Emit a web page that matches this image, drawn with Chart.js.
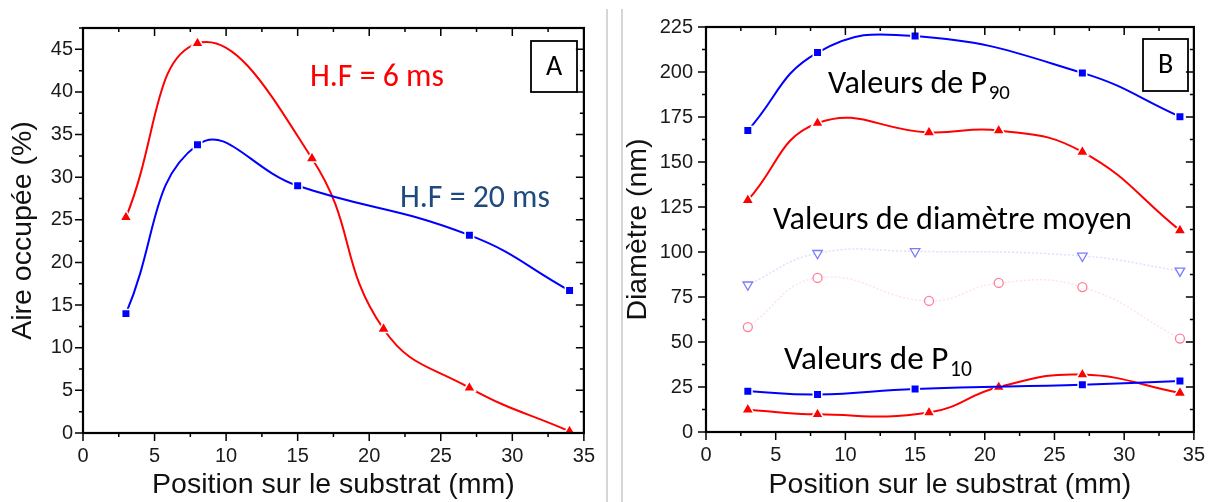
<!DOCTYPE html>
<html>
<head>
<meta charset="utf-8">
<script src="https://cdn.jsdelivr.net/npm/chart.js@4.4.1/dist/chart.umd.min.js"></script>
<style>
  html, body { margin: 0; padding: 0; background: #fff; }
  body { width: 1216px; height: 502px; position: relative; overflow: hidden; }
  canvas { position: absolute; top: 0; }
  #chartA { left: 0; }
  #chartB { left: 612px; }
  .sep { position: absolute; top: 9px; bottom: 0; width: 2px; background: #d6d6d6; }
</style>
</head>
<body>
<canvas id="chartA" width="606" height="502"></canvas>
<canvas id="chartB" width="604" height="502"></canvas>
<div class="sep" style="left:606px"></div>
<div class="sep" style="left:621px"></div>
<script>
// positions along the substrate (mm)
const posRed = [3, 8, 16, 21, 27, 34];
const posBlue = [3, 8, 15, 27, 34];

// A : occupied area (%)
const aireHF6 = [25.3, 45.7, 32.2, 12.2, 5.3, 0.2];
const aireHF20 = [14.0, 33.8, 29.0, 23.2, 16.7];

// B : diameters (nm)
const p90Blue = [167.5, 210.8, 220.0, 199.5, 175.2];
const p90Red = [128.8, 171.6, 166.4, 167.5, 155.6, 112.0];
const moyBlue = [81.8, 99.3, 100.3, 97.8, 89.5];
const moyRed = [58.3, 85.6, 72.8, 82.8, 80.5, 51.9];
const p10Blue = [22.6, 20.8, 23.9, 26.3, 28.3];
const p10Red = [12.4, 9.8, 10.8, 25.0, 31.9, 21.7];

// tick labels
const xTicks = [0, 5, 10, 15, 20, 25, 30, 35];
const yTicksA = [0, 5, 10, 15, 20, 25, 30, 35, 40, 45];
const yTicksB = [0, 25, 50, 75, 100, 125, 150, 175, 200, 225];

const RED = '#ff0000';
const BLUE = '#0000ff';
const axisFont = 'Liberation Sans, Arial, sans-serif';
const noteFont = 'Carlito, Lato, sans-serif';

function pts(xs, ys) {
    return xs.map((x, i) => ({ x: x, y: ys[i] }));
}

function solid(xs, ys, color, style, tension) {
    return {
        data: pts(xs, ys),
        borderColor: color,
        borderWidth: 2,
        tension: tension || 0.45,
        pointStyle: style,
        pointRadius: style === 'rect' ? 6 : 7,
        pointBackgroundColor: color,
        pointBorderColor: '#fff',
        pointBorderWidth: 1.5
    };
}

function open(xs, ys, line, mark, style, rot) {
    return {
        data: pts(xs, ys),
        borderColor: line,
        borderWidth: 1.5,
        borderDash: [2, 2],
        tension: 0.45,
        pointStyle: style,
        pointRotation: rot,
        pointRadius: style === 'circle' ? 4.5 : 5.5,
        pointBackgroundColor: '#fff',
        pointBorderColor: mark,
        pointBorderWidth: 1.3
    };
}

// frame + ticks on all four sides (inner on top/right, outer on bottom/left)
const framePlugin = {
    id: 'frame',
    afterDatasetsDraw(chart, args, o) {
        const { ctx, chartArea: a, scales: { x, y } } = chart;
        ctx.save();
        ctx.strokeStyle = '#000';
        ctx.lineWidth = 1.5;
        ctx.beginPath();
        for (let v = x.min; v <= x.max + 1e-6; v += o.xMinor) {
            const px = x.getPixelForValue(v);
            const len = Math.abs(v / o.xMajor - Math.round(v / o.xMajor)) < 1e-6 ? 8 : 4;
            ctx.moveTo(px, a.bottom); ctx.lineTo(px, a.bottom + len);
            ctx.moveTo(px, a.top); ctx.lineTo(px, a.top + len);
        }
        for (let v = y.min; v <= y.max + 1e-6; v += o.yMinor) {
            const py = y.getPixelForValue(v);
            const len = Math.abs(v / o.yMajor - Math.round(v / o.yMajor)) < 1e-6 ? 8 : 4;
            ctx.moveTo(a.left, py); ctx.lineTo(a.left - len, py);
            ctx.moveTo(a.right, py); ctx.lineTo(a.right - len, py);
        }
        ctx.stroke();
        ctx.lineWidth = 2.2;
        ctx.strokeRect(a.left, a.top, a.right - a.left, a.bottom - a.top);
        ctx.restore();
    }
};

// text notes, sized to the width they take in the figure
const notesPlugin = {
    id: 'notes',
    afterDraw(chart, args, o) {
        const ctx = chart.ctx;
        ctx.save();
        ctx.textBaseline = 'alphabetic';
        (o.items || []).forEach(n => {
            const base = 30;
            ctx.font = base + 'px ' + noteFont;
            let w = ctx.measureText(n.text).width;
            if (n.sub) {
                ctx.font = (base * 0.65) + 'px ' + noteFont;
                w += ctx.measureText(n.sub).width + base * 0.05;
            }
            const size = base * n.w / w;
            ctx.fillStyle = n.color;
            ctx.font = size + 'px ' + noteFont;
            ctx.textAlign = 'left';
            ctx.fillText(n.text, n.x, n.y);
            if (n.sub) {
                const mw = ctx.measureText(n.text).width + size * 0.05;
                ctx.font = (size * 0.65) + 'px ' + noteFont;
                ctx.fillText(n.sub, n.x + mw, n.y + size * 0.2);
            }
        });
        (o.boxes || []).forEach(b => {
            ctx.strokeStyle = '#000';
            ctx.lineWidth = 1.8;
            ctx.strokeRect(b.x, b.y, b.w, b.h);
            ctx.fillStyle = '#000';
            ctx.font = '28px ' + noteFont;
            ctx.textAlign = 'center';
            ctx.textBaseline = 'middle';
            ctx.fillText(b.text, b.x + b.w / 2, b.y + b.h / 2 + 1);
            ctx.textBaseline = 'alphabetic';
        });
        ctx.restore();
    }
};

function axes(opt) {
    const tickFont = { family: axisFont, size: 20 };
    const titleFont = { family: axisFont, size: 28.5 };
    return {
        x: {
            type: 'linear', min: 0, max: 35,
            afterFit: s => { s.height = opt.xH; },
            afterBuildTicks: s => { s.ticks = xTicks.map(v => ({ value: v })); },
            grid: { display: false, drawTicks: false },
            border: { display: false },
            ticks: { font: tickFont, color: '#1a1a1a', padding: 11, maxRotation: 0 },
            title: {
                display: true, text: 'Position sur le substrat (mm)', color: '#111',
                font: titleFont, padding: { top: 0, bottom: opt.xTitlePad }
            }
        },
        y: {
            min: 0, max: opt.yMax,
            afterFit: s => { s.width = opt.yW; },
            afterBuildTicks: s => { s.ticks = opt.yTicks.map(v => ({ value: v })); },
            grid: { display: false, drawTicks: false },
            border: { display: false },
            ticks: { font: tickFont, color: '#1a1a1a', padding: opt.yPad },
            title: {
                display: true, text: opt.yTitle, color: '#111',
                font: titleFont, padding: { top: opt.yTitlePad, bottom: 0 }
            }
        }
    };
}

Chart.register(framePlugin, notesPlugin);

new Chart(document.getElementById('chartA'), {
    type: 'line',
    data: {
        datasets: [
            solid(posBlue, aireHF20, BLUE, 'rect', 0.45),
            solid(posRed, aireHF6, RED, 'triangle', 0.45)
        ]
    },
    options: {
        responsive: false,
        animation: false,
        layout: { padding: { top: 28, right: 14, left: 0, bottom: 0 } },
        plugins: {
            legend: { display: false },
            tooltip: { enabled: false },
            frame: { xMajor: 5, xMinor: 2.5, yMajor: 5, yMinor: 2.5 },
            notes: {
                items: [
                    { text: 'H.F = 6 ms', x: 310, y: 86, w: 134, color: RED },
                    { text: 'H.F = 20 ms', x: 400, y: 207, w: 150, color: '#1f4a7d' }
                ],
                boxes: [{ text: 'A', x: 531, y: 41, w: 46, h: 51 }]
            }
        },
        scales: axes({ xH: 69, yW: 83, yMax: 47.5, yTicks: yTicksA, yPad: 10,
                       yTitle: 'Aire occupée (%)', yTitlePad: 6, xTitlePad: 0 })
    }
});

new Chart(document.getElementById('chartB'), {
    type: 'line',
    data: {
        datasets: [
            solid(posBlue, p90Blue, BLUE, 'rect'),
            solid(posRed, p90Red, RED, 'triangle'),
            open(posBlue, moyBlue, 'rgba(150,150,255,0.3)', '#7a7aff', 'triangle', 180),
            open(posRed, moyRed, 'rgba(255,160,185,0.3)', '#ff7e9a', 'circle', 0),
            solid(posBlue, p10Blue, BLUE, 'rect'),
            solid(posRed, p10Red, RED, 'triangle')
        ]
    },
    options: {
        responsive: false,
        animation: false,
        layout: { padding: { top: 27, right: 13, left: 0, bottom: 0 } },
        plugins: {
            legend: { display: false },
            tooltip: { enabled: false },
            frame: { xMajor: 5, xMinor: 2.5, yMajor: 25, yMinor: 12.5 },
            notes: {
                items: [
                    { text: 'Valeurs de P', sub: '90', x: 216, y: 93, w: 182, color: '#000' },
                    { text: 'Valeurs de diamètre moyen', x: 161, y: 229, w: 359, color: '#000' },
                    { text: 'Valeurs de P', sub: '10', x: 172, y: 369, w: 188, color: '#000' }
                ],
                boxes: [{ text: 'B', x: 531, y: 39, w: 45, h: 52 }]
            }
        },
        scales: axes({ xH: 70, yW: 94, yMax: 225, yTicks: yTicksB, yPad: 13,
                       yTitle: 'Diamètre (nm)', yTitlePad: 9, xTitlePad: 0 })
    }
});
</script>
</body>
</html>
